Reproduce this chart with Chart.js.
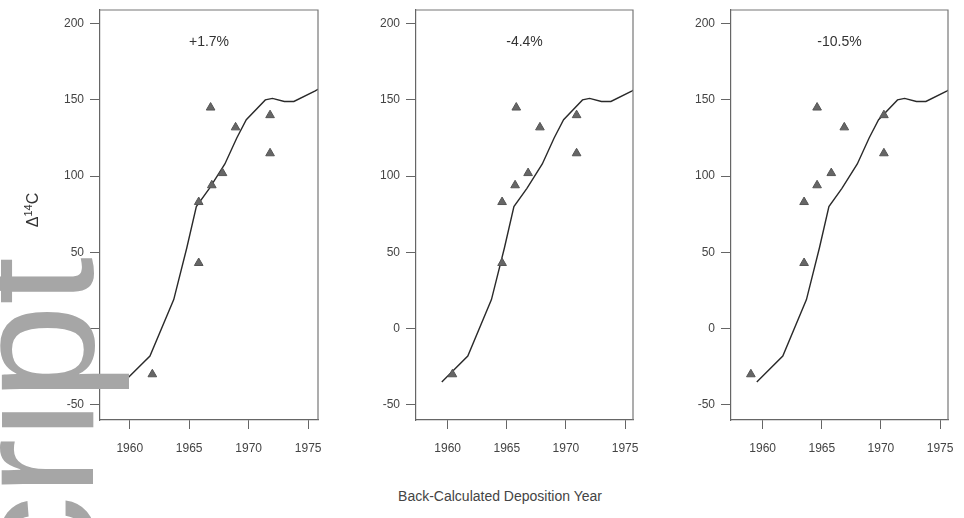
<!DOCTYPE html>
<html>
<head>
<meta charset="utf-8">
<script src="https://cdn.jsdelivr.net/npm/chart.js@4.4.1/dist/chart.umd.min.js"></script>
<style>
html,body{margin:0;padding:0;background:#fff;}
body{width:964px;height:518px;overflow:hidden;position:relative;font-family:"Liberation Sans",Arial,sans-serif;}
canvas{position:absolute;top:0;}
#xtitle{position:absolute;left:300px;width:400px;top:488px;line-height:16px;text-align:center;font-size:14px;color:#444;}
#ytitle{position:absolute;left:33px;top:210px;transform:translate(-50%,-50%) rotate(-90deg);font-size:16px;line-height:18px;white-space:nowrap;color:#333;}
#ytitle sup{font-size:11px;vertical-align:6px;line-height:0;}
#wm{position:absolute;left:0;top:0;transform-origin:0 0;transform:translate(-53px,582px) rotate(-90deg);font-size:172px;line-height:1;white-space:nowrap;color:#a6a6a6;font-family:"Liberation Sans",Arial,sans-serif;z-index:5;}
</style>
</head>
<body>
<canvas id="c0" width="324" height="470" style="left:0px"></canvas>
<canvas id="c1" width="283" height="470" style="left:356px"></canvas>
<canvas id="c2" width="283" height="470" style="left:671px"></canvas>
<div id="xtitle">Back-Calculated Deposition Year</div>
<div id="ytitle">Δ<sup>14</sup>C</div>
<div id="wm">cript</div>
<script>
// Atmospheric bomb curve (same in all panels)
const lineYears  = [1959.5, 1961.7, 1963.7, 1964.8, 1965.6, 1966.7, 1968.0, 1969.0, 1969.8, 1971.4, 1972.0, 1973.0, 1973.8, 1975.6, 1976.5];
const lineValues = [-35, -18, 19, 53, 80, 92, 108, 125, 137, 150, 151, 149, 149, 156, 160];

// Sample values (triangles) and back-calculated years per panel
const pointValues = [145, 132, 140, 115, 102, 94, 83, 43, -30];
const yearsPanel1 = [1966.8, 1968.9, 1971.8, 1971.8, 1967.8, 1966.9, 1965.8, 1965.8, 1961.9];
const yearsPanel2 = [1965.8, 1967.8, 1970.9, 1970.9, 1966.8, 1965.7, 1964.6, 1964.6, 1960.4];
const yearsPanel3 = [1964.6, 1966.9, 1970.25, 1970.25, 1965.8, 1964.6, 1963.5, 1963.5, 1959.0];

const panelTitles = ['+1.7%', '-4.4%', '-10.5%'];
const xTicks = [1960, 1965, 1970, 1975];
const yTicks = [-50, 0, 50, 100, 150, 200];

const panelYears = [yearsPanel1, yearsPanel2, yearsPanel3];

function makeChart(id, idx, axisWidth, xmin, xmax) {
  const boxPlugin = {
    id: 'boxAndTitle',
    afterDraw(chart) {
      const a = chart.chartArea, ctx = chart.ctx;
      ctx.save();
      ctx.strokeStyle = '#777';
      ctx.lineWidth = 1.2;
      ctx.beginPath();
      ctx.moveTo(a.left, a.top); ctx.lineTo(a.right, a.top); ctx.lineTo(a.right, a.bottom);
      ctx.stroke();
      ctx.fillStyle = '#333';
      ctx.font = '14px "Liberation Sans", Arial, sans-serif';
      ctx.textAlign = 'center';
      ctx.textBaseline = 'middle';
      ctx.fillText(panelTitles[idx], (a.left + a.right) / 2, a.top + 32);
      ctx.restore();
    }
  };
  return new Chart(document.getElementById(id), {
    type: 'scatter',
    data: {
      datasets: [
        {
          type: 'line',
          data: lineYears.map((x, i) => ({x: x, y: lineValues[i]})),
          borderColor: '#2a2a2a', borderWidth: 1.4, pointRadius: 0, fill: false, tension: 0, order: 2
        },
        {
          data: panelYears[idx].map((x, i) => ({x: x, y: pointValues[i]})),
          pointStyle: 'triangle', pointRadius: 5,
          backgroundColor: '#666', borderColor: '#555', borderWidth: 1, order: 1
        }
      ]
    },
    options: {
      responsive: false, animation: false, devicePixelRatio: 1,
      layout: {padding: {top: 10, right: 4, left: 0, bottom: 0}},
      plugins: {legend: {display: false}, tooltip: {enabled: false}},
      scales: {
        x: {
          type: 'linear', min: xmin, max: xmax,
          afterBuildTicks: s => { s.ticks = xTicks.map(v => ({value: v})); },
          afterFit: s => { s.height = 50; s.paddingLeft = 0; s.paddingRight = 0; },
          grid: {drawOnChartArea: false, tickLength: 9, color: '#666'},
          border: {color: '#666', width: 1.2},
          ticks: {padding: 12, color: '#444', font: {size: 12, family: '"Liberation Sans", Arial, sans-serif'}, callback: v => String(v), maxRotation: 0}
        },
        y: {
          type: 'linear', min: -60, max: 209,
          afterBuildTicks: s => { s.ticks = yTicks.map(v => ({value: v})); },
          afterFit: s => { s.width = axisWidth; s.paddingTop = 0; s.paddingBottom = 0; },
          grid: {drawOnChartArea: false, tickLength: 10, color: '#666'},
          border: {color: '#666', width: 1.2},
          ticks: {padding: 6, color: '#444', font: {size: 12, family: '"Liberation Sans", Arial, sans-serif'}, callback: v => String(v)}
        }
      }
    },
    plugins: [boxPlugin]
  });
}

makeChart('c0', 0, 100, 1957.5, 1975.83);
makeChart('c1', 1, 60, 1957.32, 1975.67);
makeChart('c2', 2, 60, 1957.32, 1975.67);
</script>
</body>
</html>
